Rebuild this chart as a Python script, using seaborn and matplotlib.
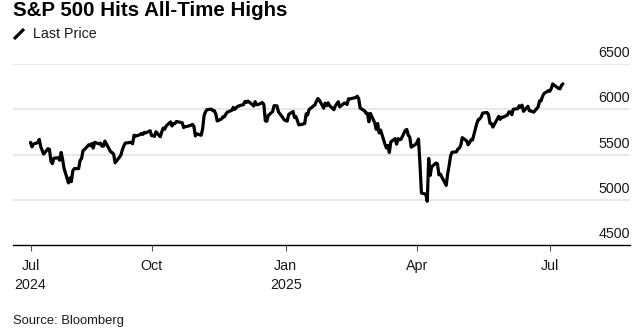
import matplotlib
matplotlib.use("Agg")
import matplotlib.pyplot as plt
import matplotlib.transforms as mtransforms
from matplotlib.lines import Line2D
import pandas as pd
import seaborn as sns

# S&P 500 daily closes, one list per month
jul_2024 = [5633.91, 5584.54, 5615.35, 5631.22, 5667.20, 5588.27, 5544.59, 5505.00,
            5564.41, 5555.74, 5427.13, 5399.22, 5459.10, 5463.54, 5436.44, 5522.30]
aug_2024 = [5446.68, 5346.56, 5186.33, 5240.03, 5199.50, 5319.31, 5344.16, 5344.39,
            5434.43, 5455.21, 5543.22, 5554.25, 5608.25, 5597.12, 5620.85, 5570.64,
            5634.61, 5616.84, 5625.80, 5592.18, 5591.96, 5648.40]
sep_2024 = [5528.93, 5520.07, 5503.41, 5408.42, 5471.05, 5495.52, 5554.13, 5595.76,
            5626.02, 5633.09, 5634.58, 5618.26, 5713.64, 5702.55, 5718.57, 5732.93,
            5722.26, 5745.37, 5738.17, 5762.48]
oct_2024 = [5708.75, 5709.54, 5699.94, 5751.07, 5695.94, 5751.13, 5792.04, 5780.05,
            5815.03, 5859.85, 5815.26, 5842.47, 5841.47, 5864.67, 5853.98, 5851.20,
            5797.42, 5809.86, 5808.12, 5823.52, 5832.92, 5813.67, 5705.45]
nov_2024 = [5728.80, 5712.69, 5782.76, 5929.04, 5973.10, 5995.54, 6001.35, 5983.99,
            5985.38, 5949.17, 5870.62, 5893.62, 5916.98, 5917.11, 5948.71, 5969.34,
            5987.37, 6021.63, 5998.74, 6032.38]
dec_2024 = [6047.15, 6049.88, 6086.49, 6075.11, 6090.27, 6052.85, 6034.91, 6084.19,
            6051.25, 6051.09, 6074.08, 6050.61, 5872.16, 5867.08, 5930.85, 5974.07,
            6040.04, 6037.59, 5970.84, 5906.94, 5881.63]
jan_2025 = [5868.55, 5942.47, 5975.38, 5909.03, 5918.25, 5827.04, 5836.22, 5842.91,
            5949.91, 5937.34, 5996.66, 6049.24, 6086.37, 6118.71, 6101.24, 6012.28,
            6067.70, 6039.31, 6071.17, 6040.53]
feb_2025 = [5994.57, 6037.88, 6061.48, 6083.57, 6025.99, 6066.44, 6068.50, 6051.97,
            6115.07, 6114.63, 6129.58, 6144.15, 6117.52, 6013.13, 5983.25, 5955.25,
            5956.06, 5861.57, 5954.50]
mar_2025 = [5849.72, 5778.15, 5842.63, 5738.52, 5770.20, 5614.56, 5572.07, 5599.30,
            5521.52, 5638.94, 5675.12, 5614.66, 5675.29, 5662.89, 5667.56, 5767.57,
            5776.65, 5712.20, 5693.31, 5580.94, 5611.85]
apr_2025 = [5633.07, 5670.97, 5396.52, 5074.08, 5062.25, 4982.77, 5456.90, 5268.05,
            5363.36, 5405.97, 5396.63, 5275.70, 5282.70, 5158.20, 5287.76, 5375.86,
            5484.77, 5525.21, 5528.75, 5560.83, 5569.06]
may_2025 = [5604.14, 5686.67, 5650.38, 5606.91, 5631.28, 5663.94, 5659.91, 5844.19,
            5886.55, 5892.58, 5916.93, 5958.38, 5963.60, 5940.46, 5844.61, 5842.01,
            5802.82, 5921.54, 5888.55, 5912.17, 5911.69]
jun_2025 = [5935.94, 5970.37, 5970.81, 5939.30, 6000.36, 6005.88, 6038.81, 6022.24,
            6045.26, 5976.97, 6033.11, 5982.72, 5980.87, 5967.84, 6025.17, 6092.18,
            6092.16, 6141.02, 6173.07, 6204.95]
jul_2025 = [6198.01, 6227.42, 6279.35, 6229.98, 6225.52, 6263.26, 6280.46]

# NYSE closures inside the period
market_holidays = ["2024-09-02", "2024-11-28", "2024-12-25", "2025-01-01", "2025-01-09",
                   "2025-01-20", "2025-02-17", "2025-04-18", "2025-05-26", "2025-06-19",
                   "2025-07-04"]

first_session = "2024-07-10"
last_session = "2025-07-10"

y_ticks = [4500, 5000, 5500, 6000, 6500]
x_tick_dates = ["2024-07-10", "2024-10-01", "2025-01-01", "2025-04-01", "2025-07-01"]
x_tick_labels = ["Jul\n2024", "Oct", "Jan\n2025", "Apr", "Jul"]

closes = (jul_2024 + aug_2024 + sep_2024 + oct_2024 + nov_2024 + dec_2024 + jan_2025
          + feb_2025 + mar_2025 + apr_2025 + may_2025 + jun_2025 + jul_2025)
sessions = pd.bdate_range(first_session, last_session, freq="C", holidays=market_holidays)
df = pd.DataFrame({"date": sessions, "close": closes})

sns.set_theme(style="white")
plt.rcParams["font.family"] = ["Liberation Sans", "DejaVu Sans"]

TEXT = "#1a1a1a"

fig = plt.figure(figsize=(6.43, 3.34), dpi=100)
ax = fig.add_axes([13 / 643, 1 - 245 / 334, 617 / 643, 181 / 334])

sns.lineplot(data=df, x="date", y="close", ax=ax, color="black", linewidth=2.3, legend=False)

ax.set_ylim(4500, 6500)
ax.set_xlim(pd.Timestamp("2024-06-28"), pd.Timestamp("2025-08-25"))
ax.set_xlabel("")
ax.set_ylabel("")

# light horizontal gridlines, labels sitting just above each line at the right
ax.set_yticks(y_ticks)
ax.set_yticklabels([])
ax.tick_params(axis="y", length=0)
for v in y_ticks[1:]:
    ax.axhline(v, color="#e2e2e2", linewidth=1.1, zorder=0)
label_tf = (mtransforms.blended_transform_factory(ax.transAxes, ax.transData)
            + mtransforms.ScaledTranslation(0, 4 / 100, fig.dpi_scale_trans))
for v in y_ticks:
    ax.text(1.0, v, f"{v}", transform=label_tf, ha="right", va="bottom",
            fontsize=10.3, color=TEXT)

for side in ["top", "right", "left"]:
    ax.spines[side].set_visible(False)
ax.spines["bottom"].set_color("black")
ax.spines["bottom"].set_linewidth(1.0)

ax.set_xticks([pd.Timestamp(d) for d in x_tick_dates])
ax.set_xticklabels(x_tick_labels, fontsize=10.3, color=TEXT, linespacing=1.45)
ax.tick_params(axis="x", direction="out", length=4, width=0.8, color="#555555", pad=6,
               bottom=True)

fig.text(13 / 643, 1 - 10.5 / 334, "S&P 500 Hits All-Time Highs", fontsize=14.8,
         fontweight="bold", ha="left", va="center", color="black")
fig.text(33 / 643, 1 - 34 / 334, "Last Price", fontsize=10.3, ha="left", va="center",
         color=TEXT)
fig.add_artist(Line2D([14 / 643, 24 / 643], [1 - 39 / 334, 1 - 29 / 334],
                      transform=fig.transFigure, color="black", linewidth=2.3,
                      solid_capstyle="butt"))
fig.text(13 / 643, 1 - 321 / 334, "Source: Bloomberg", fontsize=9.4, ha="left",
         va="center", color=TEXT)

fig.savefig("out.png", dpi=100, facecolor="white")
